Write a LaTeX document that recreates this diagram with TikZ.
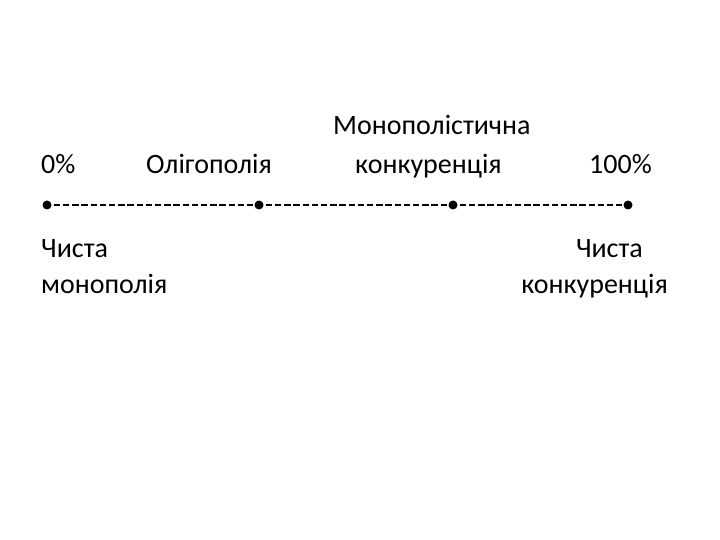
\documentclass[tikz,border=0pt]{standalone}
\usepackage{fontspec}
\setmainfont{Carlito}
\begin{document}
\begin{tikzpicture}[x=1pt,y=-1pt,
  lbl/.style={anchor=base west,inner sep=0pt,font=\fontsize{28}{34}\selectfont},
  lblr/.style={anchor=base east,inner sep=0pt,font=\fontsize{28}{34}\selectfont},
  dot/.style={circle,fill=black,inner sep=0pt,minimum size=9pt},
  dashline/.style={line width=2pt,dash pattern=on 6.5pt off 2.7pt,shorten <=2pt,shorten >=1pt}]
\useasboundingbox (0,0) rectangle (720,540);
\node[lbl] (mono) at (333,135) {Монополістична};
\node[lbl] (p0) at (41,174) {0\%};
\node[lbl] (olig) at (146,174) {Олігополія};
\node[lbl] (konk) at (355,174) {конкуренція};
\node[lblr] (p100) at (652,174) {100\%};
\node[dot] (d1) at (47,205) {};
\node[dot] (d2) at (259,205) {};
\node[dot] (d3) at (453,205) {};
\node[dot] (d4) at (628,205) {};
\draw[dashline] (d1) -- (d2);
\draw[dashline] (d2) -- (d3);
\draw[dashline] (d3) -- (d4);
\node[lbl] (ch1) at (41,258) {Чиста};
\node[lbl] (mp) at (41,293) {монополія};
\node[lblr] (ch2) at (643,258) {Чиста};
\node[lblr] (kk) at (668,293) {конкуренція};
\end{tikzpicture}
\end{document}
